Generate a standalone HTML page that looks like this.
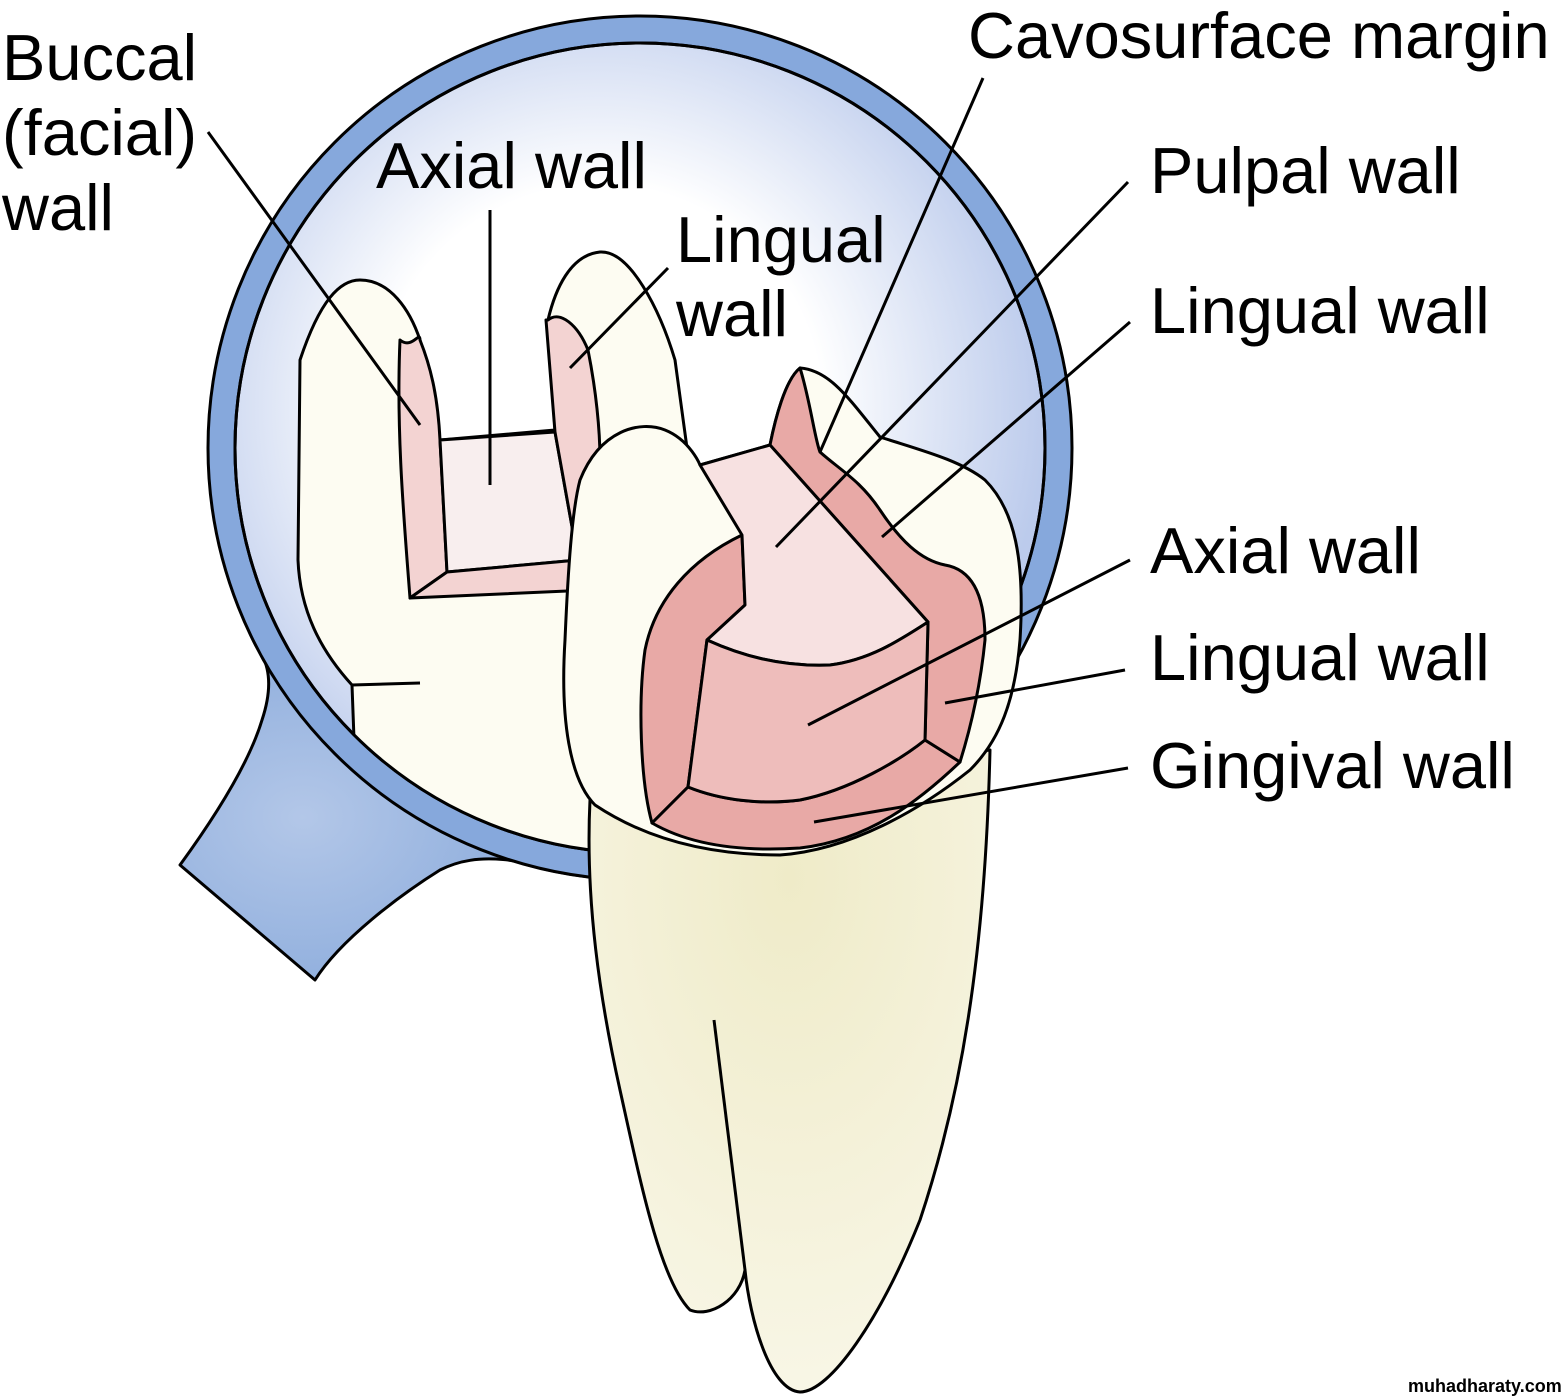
<!DOCTYPE html>
<html><head><style>
html,body{margin:0;padding:0;background:#fff;}
svg{display:block;}
text{font-family:"Liberation Sans",Arial,sans-serif;font-size:65px;fill:#000;}
</style></head><body>
<svg width="1561" height="1397" viewBox="0 0 1561 1397" xmlns="http://www.w3.org/2000/svg">
<defs>
<radialGradient id="lens" cx="0.45" cy="0.45" r="0.55">
<stop offset="0.5" stop-color="#ffffff"/>
<stop offset="1" stop-color="#bccbec"/>
</radialGradient>
<radialGradient id="handle" cx="0.3" cy="0.5" r="0.8">
<stop offset="0" stop-color="#b3c7e8"/>
<stop offset="1" stop-color="#7fa3d8"/>
</radialGradient>
<radialGradient id="root" cx="0.5" cy="0.2" r="0.8">
<stop offset="0" stop-color="#efebc8"/>
<stop offset="1" stop-color="#f8f6e6"/>
</radialGradient>
<clipPath id="lc"><circle cx="640" cy="448" r="405"/></clipPath>
</defs>
<g stroke="#000" stroke-width="3" stroke-linejoin="round">
<path d="M180,865 C220,810 250,760 262,720 C272,690 270,670 262,655 A432,432 0 0 0 590,877 C520,860 480,850 440,870 C400,895 340,940 315,980 Z" fill="url(#handle)"/>
<circle cx="640" cy="448" r="432" fill="#86a8dc"/>
<circle cx="640" cy="448" r="405" fill="url(#lens)"/>
<g clip-path="url(#lc)">
<path d="M300,360 C320,300 340,280 360,280 C390,280 410,310 420,340 L440,440 L555,430 L548,320 C555,290 570,255 600,252 C630,250 660,310 675,360 L690,470 L600,700 L590,900 L360,900 L352,685 C320,650 300,610 298,560 Z" fill="#fdfcf2"/>
<path d="M352,685 L420,683" fill="none"/>
</g>
<circle cx="640" cy="448" r="405" fill="none"/>
<path d="M400,340 C412,350 420,330 420,340 C432,370 438,400 440,440 L447,572 L410,598 C404,520 396,430 400,340 Z" fill="#f3d3d2"/>
<path d="M440,440 L555,432 L578,560 L447,572 Z" fill="#f8eeee"/>
<path d="M447,572 L578,560 L590,590 L410,598 Z" fill="#f3d3d2"/>
<path d="M548,320 C560,310 578,325 588,350 C596,390 600,430 600,460 L578,560 L555,432 L546,320 Z" fill="#f3d3d2"/>
<path d="M590,800 C585,900 600,1000 620,1090 C640,1180 660,1280 690,1310 C710,1318 740,1300 745,1270 C750,1320 770,1390 800,1392 C830,1392 880,1320 920,1220 C960,1100 985,960 990,750 Z" fill="url(#root)"/>
<path d="M714,1020 L745,1270" fill="none"/>
<path d="M580,480 C600,430 640,420 665,430 C690,440 700,465 700,465 L770,445 C775,420 785,380 800,368 C830,370 850,400 880,437 C920,450 960,460 985,480 C1015,510 1025,560 1020,640 C1015,700 1000,740 970,770 C920,810 850,850 780,855 C700,855 640,835 595,805 C570,780 560,720 565,640 C568,570 572,510 580,480 Z" fill="#fdfcf2"/>
<path d="M742,535 L745,605 L707,640 L688,787 L652,823 C640,780 638,700 645,650 C655,600 690,560 742,535 Z" fill="#e8a9a6"/>
<path d="M652,823 L688,787 C720,800 760,805 800,800 C850,790 900,760 925,740 L960,762 C920,800 870,840 800,848 C740,852 690,845 652,823 Z" fill="#e8a9a6"/>
<path d="M770,445 C775,420 785,380 800,368 C810,400 815,440 820,452 C840,470 860,480 880,510 C900,540 920,560 945,565 C975,570 985,600 985,640 C980,690 970,730 960,762 L925,740 L928,622 Z" fill="#e8a9a6"/>
<path d="M700,465 L770,445 L928,622 C900,640 870,660 830,665 C780,667 740,655 707,640 L745,605 L742,535 Z" fill="#f7e1e1"/>
<path d="M707,640 C740,655 780,667 830,665 C870,660 900,640 928,622 L925,740 C900,760 850,790 800,800 C760,805 720,800 688,787 Z" fill="#eebdbb"/>
</g>
<g stroke="#000" stroke-width="3" fill="none">
<line x1="208" y1="132" x2="420" y2="425"/>
<line x1="490" y1="210" x2="490" y2="485"/>
<line x1="668" y1="268" x2="570" y2="368"/>
<line x1="983" y1="78" x2="820" y2="452"/>
<line x1="1128" y1="182" x2="776" y2="547"/>
<line x1="1130" y1="322" x2="882" y2="537"/>
<line x1="1130" y1="560" x2="808" y2="725"/>
<line x1="1125" y1="670" x2="945" y2="703"/>
<line x1="1128" y1="768" x2="814" y2="822"/>
</g>
<text x="2" y="80">Buccal</text>
<text x="2" y="155">(facial)</text>
<text x="2" y="230">wall</text>
<text x="376" y="188">Axial wall</text>
<text x="676" y="262">Lingual</text>
<text x="676" y="336">wall</text>
<text x="968" y="58">Cavosurface margin</text>
<text x="1150" y="193">Pulpal wall</text>
<text x="1150" y="333">Lingual wall</text>
<text x="1150" y="573">Axial wall</text>
<text x="1150" y="680">Lingual wall</text>
<text x="1150" y="788">Gingival wall</text>
<text x="1408" y="1392" style="font-size:18px;font-weight:bold">muhadharaty.com</text>
</svg>
</body></html>
